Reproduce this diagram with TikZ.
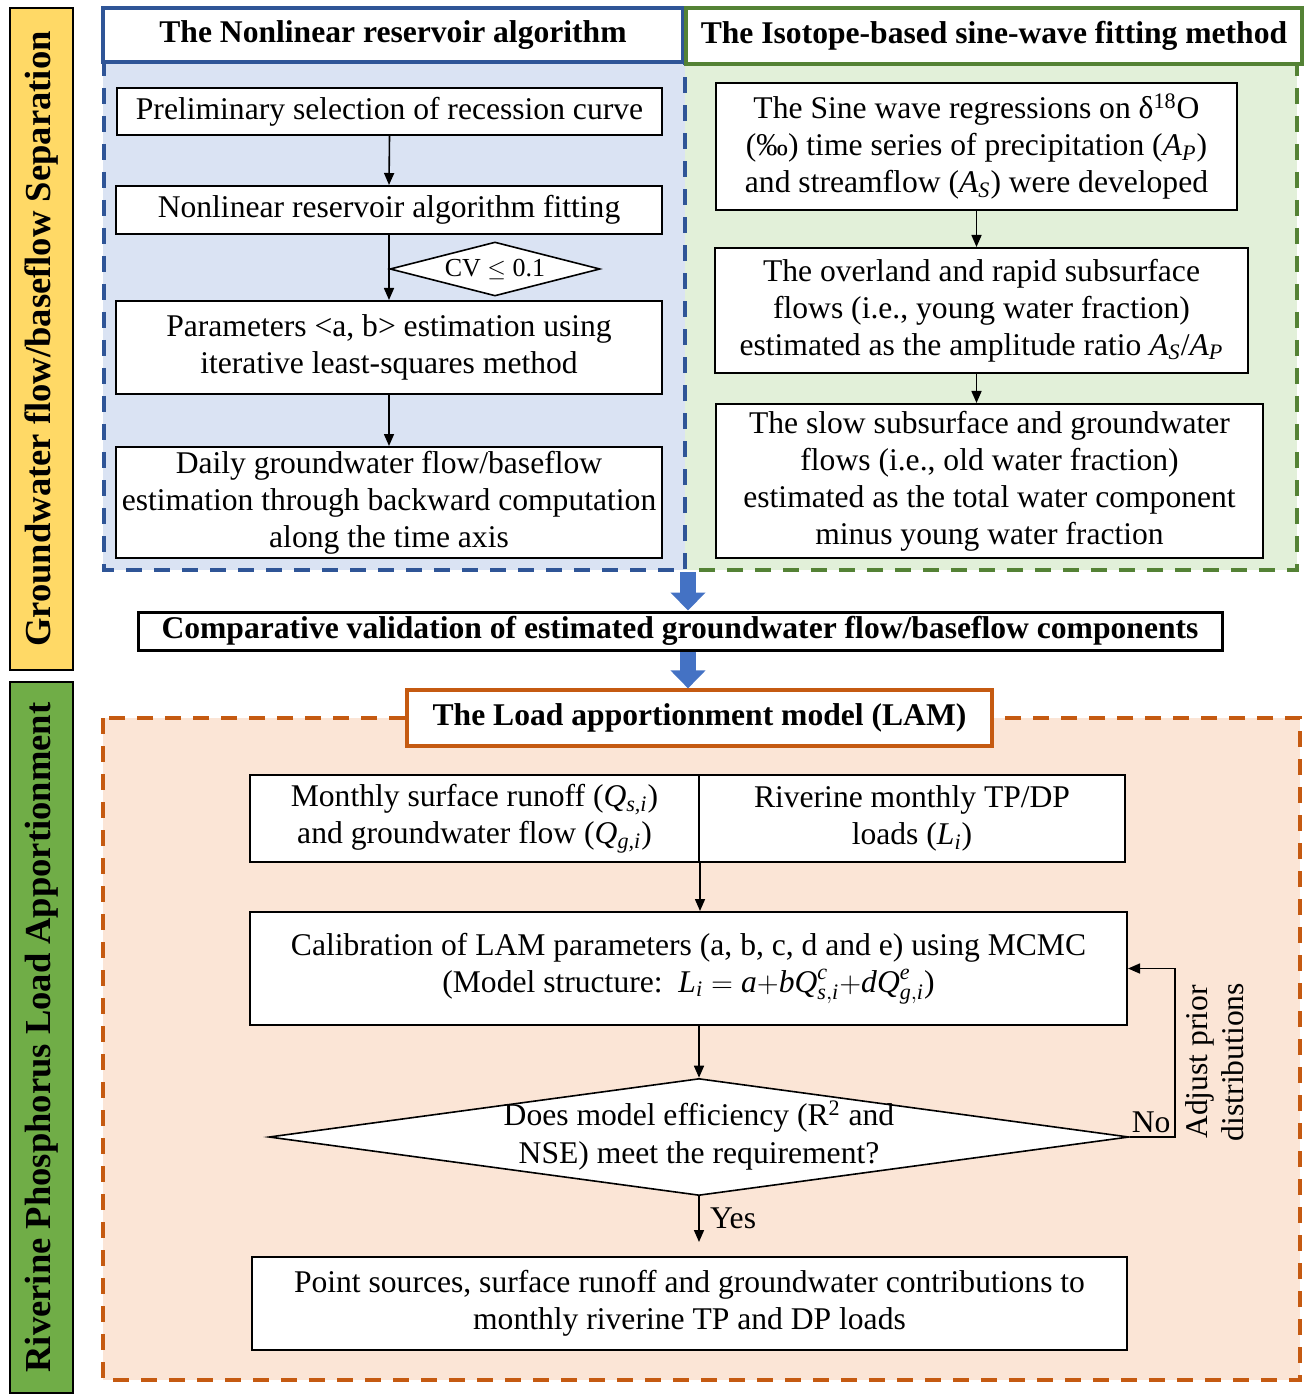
\documentclass[tikz,border=0pt]{standalone}
\usepackage{fontspec}
\usepackage{amsmath}
\setmainfont{Liberation Serif}
\usetikzlibrary{shapes.geometric,arrows.meta}
\definecolor{barYellow}{HTML}{FFD966}
\definecolor{barGreen}{HTML}{70AD47}
\definecolor{blueBg}{HTML}{DAE3F3}
\definecolor{blueLine}{HTML}{2F5597}
\definecolor{greenBg}{HTML}{E2F0D9}
\definecolor{greenLine}{HTML}{548235}
\definecolor{orangeBg}{HTML}{FBE5D6}
\definecolor{orangeLine}{HTML}{C55A11}
\definecolor{flowBlue}{HTML}{4472C4}
\newcommand{\vsub}[2]{\textit{#1}\textsubscript{\textit{#2}}}
\begin{document}
\begin{tikzpicture}[x=0.5pt, y=-0.5pt,
    box/.style = {draw, line width=1pt, fill=white, align=center, inner sep=1pt,
                  font=\fontsize{15.8}{18.5}\selectfont},
    head/.style = {draw, line width=1.6pt, fill=white, inner sep=2pt,
                   font=\fontsize{15.8}{18}\selectfont\bfseries},
    side/.style = {draw, line width=0.8pt, rotate=90,
                   font=\fontsize{18.3}{21}\selectfont\bfseries},
    arrow/.style = {thick, -{Triangle[length=6pt,width=5pt]}},
    fat/.style = {line width=8pt, draw=flowBlue, -{Triangle[length=9pt,width=17pt]}},
    zone/.style = {line width=1.6pt, dash pattern=on 8pt off 6pt}]
    \useasboundingbox (0,0) rectangle (1304,1395);

    % side bars
    \node[side, fill=barYellow, minimum width=331pt, minimum height=31.5pt]
        (sepbar) at (41.5,339) {Groundwater flow/baseflow Separation};
    \node[side, fill=barGreen, minimum width=355.5pt, minimum height=31.5pt]
        (lambar) at (41.5,1037.5) {Riverine Phosphorus Load Apportionment};

    % background zones
    \fill[blueBg] (103,60) rectangle (685,570);
    \fill[greenBg] (685,60) rectangle (1297,570);
    \fill[orangeBg] (103,718) rectangle (1300,1380);
    \draw[zone, greenLine] (1297,60) -- (1297,570) -- (688,570);
    \draw[zone, blueLine] (104,60) -- (104,570) -- (685,570) -- (685,60);
    \draw[zone, orangeLine] (103,718) rectangle (1300,1380);

    % headers
    \node[head, draw=blueLine, minimum width=290pt, minimum height=27pt]
        (nlhead) at (393,35) {The Nonlinear reservoir algorithm};
    \node[head, draw=greenLine, minimum width=308pt, minimum height=28pt]
        (swhead) at (994,36) {The Isotope-based sine-wave fitting method};

    % nonlinear reservoir algorithm
    \node[box, minimum width=272.5pt, minimum height=23.5pt]
        (recess) at (389.5,111.5) {Preliminary selection of recession curve};
    \node[box, minimum width=273pt, minimum height=24pt]
        (nlfit) at (389,210) {Nonlinear reservoir algorithm fitting};
    \node[box, minimum width=273pt, minimum height=46.5pt]
        (params) at (389,347.5) {Parameters <a, b> estimation using\\iterative least-squares method};
    \node[box, minimum width=273pt, minimum height=55.5pt]
        (daily) at (389,502.5) {Daily groundwater flow/baseflow\\estimation through backward computation\\along the time axis};
    \node[draw, thick, fill=white, diamond, aspect=3.9, inner sep=0pt,
          minimum width=105pt, minimum height=27pt, font=\fontsize{13}{15}\selectfont]
        (cv) at (495,269) {CV $\leq$ 0.1};

    \draw[arrow] (recess.south) -- (nlfit.north);
    \draw[arrow] (nlfit.south) -- (params.north);
    \draw[arrow] (params.south) -- (daily.north);

    % isotope-based sine-wave fitting
    \node[box, minimum width=260.5pt, minimum height=63.5pt]
        (sine) at (976.5,146.5) {The Sine wave regressions on δ\textsuperscript{18}O\\(‰) time series of precipitation (\vsub{A}{P})\\and streamflow (\vsub{A}{S}) were developed};
    \node[box, minimum width=266.5pt, minimum height=62.5pt]
        (young) at (981.5,310.5) {The overland and rapid subsurface\\flows (i.e., young water fraction)\\estimated as the amplitude ratio \vsub{A}{S}/\vsub{A}{P}};
    \node[box, minimum width=273.5pt, minimum height=77pt]
        (old) at (989.5,481) {The slow subsurface and groundwater\\flows (i.e., old water fraction)\\estimated as the total water component\\minus young water fraction};

    \draw[arrow] (sine.south) -- (sine.south |- young.north);
    \draw[arrow] (sine.south |- young.south) -- (sine.south |- old.north);

    % comparison
    \node[head, draw=black, line width=1.5pt, minimum width=542pt, minimum height=19pt]
        (compare) at (680,631) {Comparative validation of estimated groundwater flow/baseflow components};
    \node[head, draw=orangeLine, minimum width=292.5pt, minimum height=28pt]
        (lamhead) at (699.5,718) {The Load apportionment model (LAM)};
    \coordinate (split) at (688,572);
    \draw[fat] (split) -- (split |- compare.north);
    \draw[fat] (split |- compare.south) -- (split |- lamhead.north);

    % load apportionment model
    \node[box, minimum width=224.5pt, minimum height=43.5pt]
        (flows) at (474.5,818.5) {Monthly surface runoff (\vsub{Q}{s,i})\\and groundwater flow (\vsub{Q}{g,i})};
    \node[box, minimum width=213pt, minimum height=43.5pt]
        (loads) at (912,818.5) {Riverine monthly TP/DP\\loads (\vsub{L}{i})};
    \node[box, minimum width=438.5pt, minimum height=56.5pt]
        (calib) at (688.5,968.5) {Calibration of LAM parameters (a, b, c, d and e) using MCMC\\(Model structure:\ \ $\textit{L}_{\textit{i}} = \textit{a}{+}\textit{b}\textit{Q}^{\textit{c}}_{\textit{s},\textit{i}}{+}\textit{d}\textit{Q}^{\textit{e}}_{\textit{g},\textit{i}}$)};
    \node[draw, thick, fill=white, diamond, inner sep=0pt,
          minimum width=430pt, minimum height=58.5pt, font=\fontsize{15.8}{19}\selectfont]
        (check) at (699,1137) {\makebox[0pt]{\begin{tabular}{@{}c@{}}Does model efficiency (R\textsuperscript{2} and\\NSE) meet the requirement?\end{tabular}}};
    \node[box, minimum width=437.5pt, minimum height=46.5pt]
        (result) at (689.5,1303.5) {Point sources, surface runoff and groundwater contributions to\\monthly riverine TP and DP loads};

    \draw[arrow] (flows.south east) -- (flows.south east |- calib.north);
    \draw[arrow] (check.north |- calib.south) -- (check.north);
    \draw[arrow, shorten >=7pt] (check.south) -- (check.south |- result.north);
    \draw[arrow] (check.east) -- ++(45,0) coordinate (turn) |- (calib.east);

    \node[right, font=\fontsize{15.8}{18}\selectfont] (yes) at (703,1218) {Yes};
    \node[above left, inner sep=2pt, font=\fontsize{15.8}{18}\selectfont] (no) at (turn) {No};
    \node[rotate=90, align=center, font=\fontsize{15.8}{18}\selectfont]
        (adjust) at (1215,1062) {Adjust prior\\distributions};
\end{tikzpicture}
\end{document}
